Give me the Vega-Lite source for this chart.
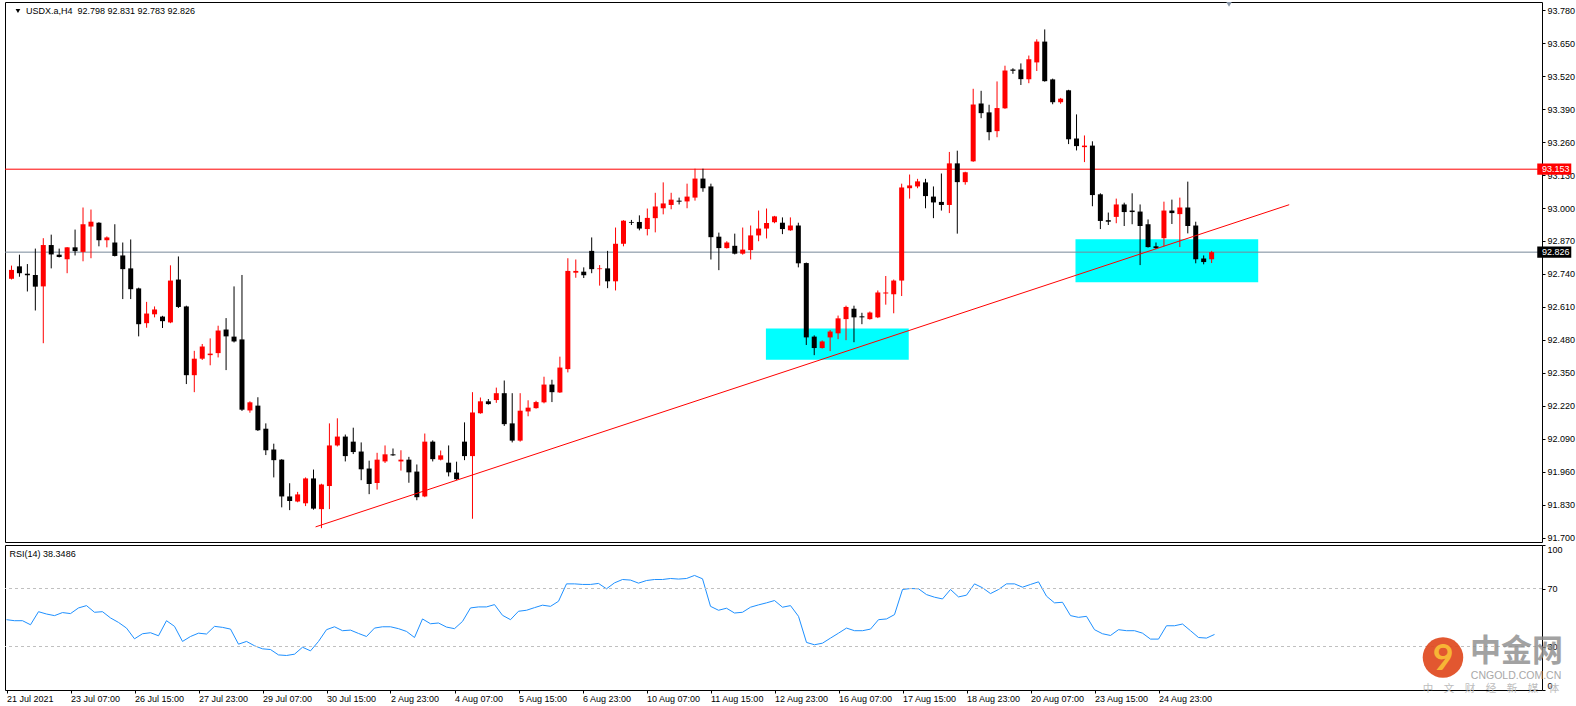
{
"$schema": "https://vega.github.io/schema/vega-lite/v6.json",
"background": "white",
"padding": {"left": 4, "top": 1, "right": 0, "bottom": 0},
"spacing": 3,
"bounds": "flush",
"config": {"view": {"stroke": "#000000", "strokeWidth": 1}, "text": {"font": "Liberation Sans"}, "axis": {"labelFont": "Liberation Sans", "labelFontSize": 9, "labelColor": "#000000", "tickColor": "#000000", "domain": false, "grid": false, "labelOverlap": false, "labelBound": false}},
"data": {"values": [
{"i":0,"o":92.721,"h":92.773,"l":92.718,"c":92.756,"r":48.5},
{"i":1,"o":92.770,"h":92.816,"l":92.729,"c":92.743,"r":47.8},
{"i":2,"o":92.741,"h":92.779,"l":92.671,"c":92.735,"r":47.8},
{"i":3,"o":92.736,"h":92.840,"l":92.596,"c":92.690,"r":45.0},
{"i":4,"o":92.691,"h":92.881,"l":92.467,"c":92.854,"r":54.0},
{"i":5,"o":92.854,"h":92.895,"l":92.762,"c":92.817,"r":52.4},
{"i":6,"o":92.816,"h":92.840,"l":92.805,"c":92.807,"r":51.3},
{"i":7,"o":92.798,"h":92.846,"l":92.743,"c":92.845,"r":53.4},
{"i":8,"o":92.845,"h":92.915,"l":92.813,"c":92.830,"r":52.7},
{"i":9,"o":92.827,"h":93.002,"l":92.790,"c":92.936,"r":56.6},
{"i":10,"o":92.927,"h":92.994,"l":92.802,"c":92.946,"r":58.2},
{"i":11,"o":92.942,"h":92.944,"l":92.849,"c":92.873,"r":53.6},
{"i":12,"o":92.873,"h":92.888,"l":92.845,"c":92.884,"r":54.0},
{"i":13,"o":92.864,"h":92.936,"l":92.809,"c":92.811,"r":49.7},
{"i":14,"o":92.813,"h":92.864,"l":92.641,"c":92.759,"r":46.6},
{"i":15,"o":92.762,"h":92.876,"l":92.641,"c":92.680,"r":42.7},
{"i":16,"o":92.683,"h":92.686,"l":92.494,"c":92.542,"r":35.3},
{"i":17,"o":92.546,"h":92.630,"l":92.528,"c":92.584,"r":38.8},
{"i":18,"o":92.581,"h":92.612,"l":92.569,"c":92.600,"r":39.5},
{"i":19,"o":92.572,"h":92.575,"l":92.527,"c":92.554,"r":37.4},
{"i":20,"o":92.549,"h":92.774,"l":92.546,"c":92.714,"r":47.8},
{"i":21,"o":92.718,"h":92.809,"l":92.606,"c":92.610,"r":43.9},
{"i":22,"o":92.612,"h":92.615,"l":92.306,"c":92.341,"r":33.5},
{"i":23,"o":92.341,"h":92.437,"l":92.274,"c":92.406,"r":36.9},
{"i":24,"o":92.406,"h":92.464,"l":92.401,"c":92.454,"r":39.2},
{"i":25,"o":92.420,"h":92.486,"l":92.380,"c":92.426,"r":38.6},
{"i":26,"o":92.428,"h":92.536,"l":92.411,"c":92.517,"r":43.9},
{"i":27,"o":92.521,"h":92.566,"l":92.361,"c":92.494,"r":43.2},
{"i":28,"o":92.493,"h":92.691,"l":92.470,"c":92.474,"r":42.0},
{"i":29,"o":92.482,"h":92.736,"l":92.200,"c":92.205,"r":31.6},
{"i":30,"o":92.202,"h":92.238,"l":92.193,"c":92.234,"r":33.5},
{"i":31,"o":92.221,"h":92.254,"l":92.121,"c":92.124,"r":30.5},
{"i":32,"o":92.130,"h":92.151,"l":92.026,"c":92.045,"r":28.4},
{"i":33,"o":92.048,"h":92.071,"l":91.938,"c":92.006,"r":27.9},
{"i":34,"o":92.008,"h":92.010,"l":91.820,"c":91.863,"r":24.2},
{"i":35,"o":91.863,"h":91.915,"l":91.809,"c":91.845,"r":23.8},
{"i":36,"o":91.843,"h":91.881,"l":91.840,"c":91.871,"r":24.7},
{"i":37,"o":91.836,"h":91.938,"l":91.825,"c":91.934,"r":29.5},
{"i":38,"o":91.934,"h":91.969,"l":91.811,"c":91.815,"r":27.0},
{"i":39,"o":91.813,"h":91.913,"l":91.738,"c":91.910,"r":33.5},
{"i":40,"o":91.904,"h":92.151,"l":91.813,"c":92.064,"r":41.6},
{"i":41,"o":92.064,"h":92.171,"l":92.060,"c":92.099,"r":43.6},
{"i":42,"o":92.099,"h":92.107,"l":92.001,"c":92.022,"r":40.9},
{"i":43,"o":92.079,"h":92.134,"l":92.030,"c":92.038,"r":41.3},
{"i":44,"o":92.040,"h":92.076,"l":91.927,"c":91.970,"r":39.0},
{"i":45,"o":91.973,"h":92.004,"l":91.872,"c":91.912,"r":36.9},
{"i":46,"o":91.916,"h":92.035,"l":91.890,"c":92.008,"r":42.7},
{"i":47,"o":92.001,"h":92.064,"l":91.995,"c":92.029,"r":43.6},
{"i":48,"o":92.029,"h":92.052,"l":92.023,"c":92.025,"r":43.6},
{"i":49,"o":92.001,"h":92.045,"l":91.965,"c":92.008,"r":42.3},
{"i":50,"o":92.008,"h":92.019,"l":91.917,"c":91.958,"r":40.4},
{"i":51,"o":91.961,"h":91.989,"l":91.848,"c":91.860,"r":36.2},
{"i":52,"o":91.863,"h":92.111,"l":91.860,"c":92.079,"r":49.0},
{"i":53,"o":92.079,"h":92.084,"l":92.001,"c":92.010,"r":45.7},
{"i":54,"o":92.008,"h":92.044,"l":92.005,"c":92.025,"r":46.2},
{"i":55,"o":91.996,"h":92.064,"l":91.942,"c":91.958,"r":43.4},
{"i":56,"o":91.957,"h":92.000,"l":91.928,"c":91.931,"r":42.3},
{"i":57,"o":92.079,"h":92.155,"l":92.006,"c":92.022,"r":47.3},
{"i":58,"o":92.022,"h":92.274,"l":91.775,"c":92.194,"r":56.6},
{"i":59,"o":92.191,"h":92.253,"l":92.189,"c":92.238,"r":57.3},
{"i":60,"o":92.238,"h":92.247,"l":92.225,"c":92.227,"r":57.3},
{"i":61,"o":92.243,"h":92.292,"l":92.232,"c":92.270,"r":58.9},
{"i":62,"o":92.270,"h":92.320,"l":92.141,"c":92.148,"r":51.5},
{"i":63,"o":92.151,"h":92.270,"l":92.076,"c":92.083,"r":48.5},
{"i":64,"o":92.083,"h":92.270,"l":92.079,"c":92.201,"r":54.3},
{"i":65,"o":92.198,"h":92.242,"l":92.179,"c":92.213,"r":55.0},
{"i":66,"o":92.211,"h":92.240,"l":92.209,"c":92.235,"r":56.8},
{"i":67,"o":92.234,"h":92.335,"l":92.230,"c":92.304,"r":58.5},
{"i":68,"o":92.304,"h":92.323,"l":92.235,"c":92.274,"r":57.7},
{"i":69,"o":92.273,"h":92.414,"l":92.271,"c":92.371,"r":61.2},
{"i":70,"o":92.365,"h":92.802,"l":92.352,"c":92.752,"r":73.2},
{"i":71,"o":92.745,"h":92.797,"l":92.725,"c":92.752,"r":73.2},
{"i":72,"o":92.749,"h":92.766,"l":92.724,"c":92.735,"r":72.8},
{"i":73,"o":92.831,"h":92.884,"l":92.743,"c":92.759,"r":72.8},
{"i":74,"o":92.759,"h":92.775,"l":92.694,"c":92.762,"r":73.5},
{"i":75,"o":92.762,"h":92.831,"l":92.684,"c":92.711,"r":69.8},
{"i":76,"o":92.711,"h":92.923,"l":92.675,"c":92.859,"r":73.9},
{"i":77,"o":92.859,"h":92.952,"l":92.849,"c":92.950,"r":76.2},
{"i":78,"o":92.945,"h":92.953,"l":92.933,"c":92.942,"r":75.8},
{"i":79,"o":92.945,"h":92.971,"l":92.912,"c":92.919,"r":73.7},
{"i":80,"o":92.917,"h":92.998,"l":92.892,"c":92.961,"r":75.5},
{"i":81,"o":92.960,"h":93.060,"l":92.904,"c":93.006,"r":76.2},
{"i":82,"o":92.999,"h":93.101,"l":92.975,"c":93.018,"r":76.2},
{"i":83,"o":93.012,"h":93.060,"l":92.995,"c":93.033,"r":76.9},
{"i":84,"o":93.029,"h":93.041,"l":93.014,"c":93.025,"r":76.5},
{"i":85,"o":93.026,"h":93.096,"l":92.999,"c":93.045,"r":76.9},
{"i":86,"o":93.041,"h":93.155,"l":93.029,"c":93.116,"r":79.0},
{"i":87,"o":93.116,"h":93.155,"l":93.064,"c":93.078,"r":76.7},
{"i":88,"o":93.085,"h":93.096,"l":92.797,"c":92.885,"r":57.7},
{"i":89,"o":92.887,"h":92.903,"l":92.755,"c":92.842,"r":55.0},
{"i":90,"o":92.842,"h":92.869,"l":92.840,"c":92.864,"r":56.4},
{"i":91,"o":92.851,"h":92.899,"l":92.817,"c":92.820,"r":53.1},
{"i":92,"o":92.820,"h":92.923,"l":92.816,"c":92.836,"r":53.6},
{"i":93,"o":92.834,"h":92.931,"l":92.797,"c":92.892,"r":57.1},
{"i":94,"o":92.892,"h":92.990,"l":92.869,"c":92.919,"r":58.7},
{"i":95,"o":92.919,"h":92.998,"l":92.880,"c":92.941,"r":60.1},
{"i":96,"o":92.944,"h":92.969,"l":92.940,"c":92.967,"r":61.7},
{"i":97,"o":92.942,"h":92.963,"l":92.897,"c":92.917,"r":57.1},
{"i":98,"o":92.912,"h":92.963,"l":92.910,"c":92.931,"r":58.2},
{"i":99,"o":92.931,"h":92.942,"l":92.766,"c":92.782,"r":50.8},
{"i":100,"o":92.783,"h":92.785,"l":92.460,"c":92.490,"r":32.8},
{"i":101,"o":92.493,"h":92.498,"l":92.420,"c":92.448,"r":31.2},
{"i":102,"o":92.448,"h":92.478,"l":92.446,"c":92.474,"r":32.3},
{"i":103,"o":92.490,"h":92.519,"l":92.436,"c":92.513,"r":35.8},
{"i":104,"o":92.506,"h":92.576,"l":92.483,"c":92.565,"r":39.2},
{"i":105,"o":92.562,"h":92.615,"l":92.479,"c":92.610,"r":42.7},
{"i":106,"o":92.603,"h":92.615,"l":92.471,"c":92.569,"r":40.9},
{"i":107,"o":92.573,"h":92.587,"l":92.542,"c":92.569,"r":40.9},
{"i":108,"o":92.562,"h":92.592,"l":92.560,"c":92.588,"r":42.0},
{"i":109,"o":92.569,"h":92.675,"l":92.566,"c":92.667,"r":48.5},
{"i":110,"o":92.663,"h":92.732,"l":92.619,"c":92.667,"r":49.0},
{"i":111,"o":92.660,"h":92.718,"l":92.585,"c":92.714,"r":52.0},
{"i":112,"o":92.714,"h":93.096,"l":92.653,"c":93.081,"r":69.3},
{"i":113,"o":93.078,"h":93.132,"l":93.037,"c":93.089,"r":70.0},
{"i":114,"o":93.085,"h":93.115,"l":93.078,"c":93.105,"r":69.8},
{"i":115,"o":93.101,"h":93.115,"l":92.999,"c":93.047,"r":65.8},
{"i":116,"o":93.045,"h":93.085,"l":92.960,"c":93.022,"r":64.0},
{"i":117,"o":93.024,"h":93.136,"l":92.990,"c":93.012,"r":62.8},
{"i":118,"o":93.012,"h":93.221,"l":92.980,"c":93.176,"r":69.3},
{"i":119,"o":93.176,"h":93.226,"l":92.899,"c":93.102,"r":64.2},
{"i":120,"o":93.102,"h":93.143,"l":93.092,"c":93.141,"r":65.4},
{"i":121,"o":93.184,"h":93.470,"l":93.182,"c":93.408,"r":73.2},
{"i":122,"o":93.412,"h":93.462,"l":93.354,"c":93.374,"r":70.5},
{"i":123,"o":93.377,"h":93.407,"l":93.267,"c":93.299,"r":66.5},
{"i":124,"o":93.303,"h":93.499,"l":93.279,"c":93.394,"r":69.3},
{"i":125,"o":93.393,"h":93.561,"l":93.391,"c":93.542,"r":73.2},
{"i":126,"o":93.546,"h":93.551,"l":93.529,"c":93.541,"r":73.2},
{"i":127,"o":93.546,"h":93.570,"l":93.485,"c":93.508,"r":70.9},
{"i":128,"o":93.508,"h":93.601,"l":93.492,"c":93.586,"r":72.8},
{"i":129,"o":93.574,"h":93.665,"l":93.540,"c":93.656,"r":74.6},
{"i":130,"o":93.656,"h":93.704,"l":93.498,"c":93.500,"r":64.7},
{"i":131,"o":93.507,"h":93.510,"l":93.409,"c":93.417,"r":60.1},
{"i":132,"o":93.417,"h":93.434,"l":93.411,"c":93.431,"r":60.5},
{"i":133,"o":93.464,"h":93.466,"l":93.252,"c":93.271,"r":51.3},
{"i":134,"o":93.274,"h":93.369,"l":93.227,"c":93.244,"r":50.1},
{"i":135,"o":93.240,"h":93.286,"l":93.181,"c":93.246,"r":50.8},
{"i":136,"o":93.246,"h":93.263,"l":93.007,"c":93.051,"r":41.6},
{"i":137,"o":93.054,"h":93.058,"l":92.917,"c":92.949,"r":38.8},
{"i":138,"o":92.952,"h":92.982,"l":92.933,"c":92.946,"r":37.6},
{"i":139,"o":92.965,"h":93.037,"l":92.940,"c":93.014,"r":41.6},
{"i":140,"o":93.014,"h":93.021,"l":92.929,"c":92.984,"r":40.9},
{"i":141,"o":92.990,"h":93.058,"l":92.936,"c":92.984,"r":40.9},
{"i":142,"o":92.986,"h":93.014,"l":92.775,"c":92.929,"r":39.2},
{"i":143,"o":92.936,"h":92.955,"l":92.844,"c":92.846,"r":35.1},
{"i":144,"o":92.849,"h":92.864,"l":92.838,"c":92.842,"r":35.1},
{"i":145,"o":92.881,"h":93.025,"l":92.849,"c":92.990,"r":44.3},
{"i":146,"o":92.990,"h":93.033,"l":92.937,"c":92.980,"r":44.3},
{"i":147,"o":92.976,"h":93.041,"l":92.846,"c":93.002,"r":45.5},
{"i":148,"o":93.002,"h":93.104,"l":92.900,"c":92.929,"r":40.9},
{"i":149,"o":92.931,"h":92.946,"l":92.782,"c":92.798,"r":36.2},
{"i":150,"o":92.801,"h":92.813,"l":92.778,"c":92.787,"r":35.8},
{"i":151,"o":92.798,"h":92.831,"l":92.783,"c":92.826,"r":38.3}
]},
"vconcat": [
{
"width": 1537, "height": 540,
"layer": [
{"data": {"values": [{"x1": 94.92, "x2": 112.89, "y1": 92.402, "y2": 92.525}, {"x1": 133.87, "x2": 156.86, "y1": 92.707, "y2": 92.877}]},
 "mark": {"type": "rect", "color": "#00FFFF"},
 "encoding": {
  "x": {"field": "x1", "type": "quantitative", "scale": {"domain": [-0.1875, 191.9375], "nice": false, "zero": false}, "axis": null},
  "x2": {"field": "x2"},
  "y": {"field": "y1", "type": "quantitative", "scale": {"domain": [91.6834, 93.8121], "nice": false, "zero": false},
        "axis": {"orient": "right", "title": null, "values": [91.70, 91.83, 91.96, 92.09, 92.22, 92.35, 92.48, 92.61, 92.74, 92.87, 93.00, 93.13, 93.26, 93.39, 93.52, 93.65, 93.78], "tickCount": 30, "format": ".3f", "tickSize": 3, "labelPadding": 2, "labelOverlap": false, "labelBound": false, "labelFlush": false}},
  "y2": {"field": "y2"}}},
{"data": {"values": [{}]}, "mark": {"type": "rule", "color": "#FF0000", "strokeWidth": 1},
 "encoding": {"y": {"datum": 93.153, "type": "quantitative"}}},
{"data": {"values": [{}]}, "mark": {"type": "rule", "color": "#778899", "strokeWidth": 1},
 "encoding": {"y": {"datum": 92.826, "type": "quantitative"}}},
{"mark": {"type": "rule", "strokeWidth": 1},
 "encoding": {
  "x": {"field": "i", "type": "quantitative", "axis": null},
  "y": {"field": "l", "type": "quantitative"},
  "y2": {"field": "h"},
  "color": {"condition": {"test": "datum.c >= datum.o", "value": "#FF0000"}, "value": "#000000"}}},
{"mark": {"type": "bar", "size": 5},
 "encoding": {
  "x": {"field": "i", "type": "quantitative", "axis": null},
  "y": {"field": "o", "type": "quantitative"},
  "y2": {"field": "c"},
  "color": {"condition": {"test": "datum.c >= datum.o", "value": "#FF0000"}, "value": "#000000"}}},
{"data": {"values": [{}]}, "mark": {"type": "rule", "color": "#FF0000", "strokeWidth": 1},
 "encoding": {"x": {"datum": 38.26, "type": "quantitative", "axis": null}, "x2": {"datum": 160.76}, "y": {"datum": 91.743, "type": "quantitative"}, "y2": {"datum": 93.013}}},
{"data": {"values": [{}]}, "mark": {"type": "point", "shape": "triangle-down", "filled": true, "size": 22, "color": "#000000", "opacity": 1},
 "encoding": {"x": {"datum": 0.8125, "type": "quantitative", "axis": null}, "y": {"datum": 93.7766, "type": "quantitative"}}},
{"data": {"values": [{}]}, "mark": {"type": "text", "align": "left", "baseline": "middle", "fontSize": 9, "color": "#000000", "text": "USDX.a,H4\u00a0 92.798 92.831 92.783 92.826"},
 "encoding": {"x": {"datum": 1.8125, "type": "quantitative", "axis": null}, "y": {"datum": 93.7766, "type": "quantitative"}}},
{"data": {"values": [{}]}, "mark": {"type": "point", "shape": "triangle-down", "filled": true, "size": 30, "color": "#8896A8", "opacity": 1},
 "encoding": {"x": {"datum": 153.19, "type": "quantitative", "axis": null}, "y": {"datum": 93.803, "type": "quantitative"}}},
{"data": {"values": [{}]}, "mark": {"type": "rect", "color": "#FF0000"},
 "encoding": {"x": {"datum": 191.97, "type": "quantitative", "axis": null}, "x2": {"datum": 196.25}, "y": {"datum": 93.131, "type": "quantitative"}, "y2": {"datum": 93.175}}},
{"data": {"values": [{}]}, "mark": {"type": "rect", "color": "#000000"},
 "encoding": {"x": {"datum": 191.97, "type": "quantitative", "axis": null}, "x2": {"datum": 196.25}, "y": {"datum": 92.804, "type": "quantitative"}, "y2": {"datum": 92.848}}},
{"data": {"values": [{}]}, "mark": {"type": "text", "align": "left", "baseline": "middle", "fontSize": 9, "color": "#FFFFFF", "text": "93.153"},
 "encoding": {"x": {"datum": 192.56, "type": "quantitative", "axis": null}, "y": {"datum": 93.153, "type": "quantitative"}}},
{"data": {"values": [{}]}, "mark": {"type": "text", "align": "left", "baseline": "middle", "fontSize": 9, "color": "#FFFFFF", "text": "92.826"},
 "encoding": {"x": {"datum": 192.56, "type": "quantitative", "axis": null}, "y": {"datum": 92.826, "type": "quantitative"}}}
]
},
{
"width": 1537, "height": 145,
"layer": [
{"mark": {"type": "line", "color": "#1E90FF", "strokeWidth": 1},
 "encoding": {
  "x": {"field": "i", "type": "quantitative", "scale": {"domain": [-0.1875, 191.9375], "nice": false, "zero": false},
        "axis": {"orient": "bottom", "title": null, "values": [0, 8, 16, 24, 32, 40, 48, 56, 64, 72, 80, 88, 96, 104, 112, 120, 128, 136, 144], "tickCount": 40,
                 "labelExpr": "['21 Jul 2021','23 Jul 07:00','26 Jul 15:00','27 Jul 23:00','29 Jul 07:00','30 Jul 15:00','2 Aug 23:00','4 Aug 07:00','5 Aug 15:00','6 Aug 23:00','10 Aug 07:00','11 Aug 15:00','12 Aug 23:00','16 Aug 07:00','17 Aug 15:00','18 Aug 23:00','20 Aug 07:00','23 Aug 15:00','24 Aug 23:00'][round(datum.value / 8)]",
                 "labelAlign": "left", "labelBaseline": "top", "tickSize": 3, "labelPadding": 1, "labelOverlap": false, "labelBound": false, "labelFlush": false}},
  "y": {"field": "r", "type": "quantitative", "scale": {"domain": [0, 100], "nice": false, "zero": false},
        "axis": {"orient": "right", "title": null, "values": [0, 30, 70, 100], "tickCount": 10, "format": "d", "tickSize": 3, "labelPadding": 2, "labelFlush": true, "labelOverlap": false, "labelBound": false}}}},
{"data": {"values": [{}]}, "mark": {"type": "rule", "color": "#C0C0C0", "strokeWidth": 1, "strokeDash": [3, 3]},
 "encoding": {"y": {"datum": 70, "type": "quantitative"}}},
{"data": {"values": [{}]}, "mark": {"type": "rule", "color": "#C0C0C0", "strokeWidth": 1, "strokeDash": [3, 3]},
 "encoding": {"y": {"datum": 30, "type": "quantitative"}}},
{"data": {"values": [{}]}, "mark": {"type": "text", "align": "left", "baseline": "middle", "fontSize": 9, "color": "#000000", "text": "RSI(14) 38.3486"},
 "encoding": {"x": {"datum": 0.3875, "type": "quantitative"}, "y": {"datum": 93.8, "type": "quantitative"}}},
{"data": {"values": [{}]}, "mark": {"type": "point", "shape": "circle", "filled": true, "size": 1640, "color": "#E0491E", "opacity": 0.92},
 "encoding": {"x": {"datum": 179.56, "type": "quantitative"}, "y": {"datum": 22.4, "type": "quantitative"}}},
{"data": {"values": [{}]}, "mark": {"type": "text", "align": "center", "baseline": "middle", "font": "Lato", "fontSize": 36, "fontWeight": "bold", "color": "#F7B535", "text": "9"},
 "encoding": {"x": {"datum": 179.6, "type": "quantitative"}, "y": {"datum": 21.5, "type": "quantitative"}}},
{"data": {"values": [{}]}, "mark": {"type": "text", "align": "center", "baseline": "middle", "font": "Noto Sans CJK SC", "fontSize": 31, "fontWeight": "bold", "color": "#8C8C8C", "opacity": 0.8, "text": "中金网"},
 "encoding": {"x": {"datum": 188.75, "type": "quantitative"}, "y": {"datum": 26.5, "type": "quantitative"}}},
{"data": {"values": [{}]}, "mark": {"type": "text", "align": "center", "baseline": "middle", "font": "Liberation Sans", "fontSize": 10.5, "color": "#A8A8A8", "text": "CNGOLD.COM.CN"},
 "encoding": {"x": {"datum": 188.69, "type": "quantitative"}, "y": {"datum": 9.5, "type": "quantitative"}}},
{"data": {"values": [{}]}, "mark": {"type": "text", "align": "center", "baseline": "middle", "font": "Noto Sans CJK SC", "fontSize": 10.5, "color": "#BDBDBD", "text": "中　文　财　经　新　媒　体"},
 "encoding": {"x": {"datum": 185.56, "type": "quantitative"}, "y": {"datum": 0.7, "type": "quantitative"}}}
]
}
]
}
